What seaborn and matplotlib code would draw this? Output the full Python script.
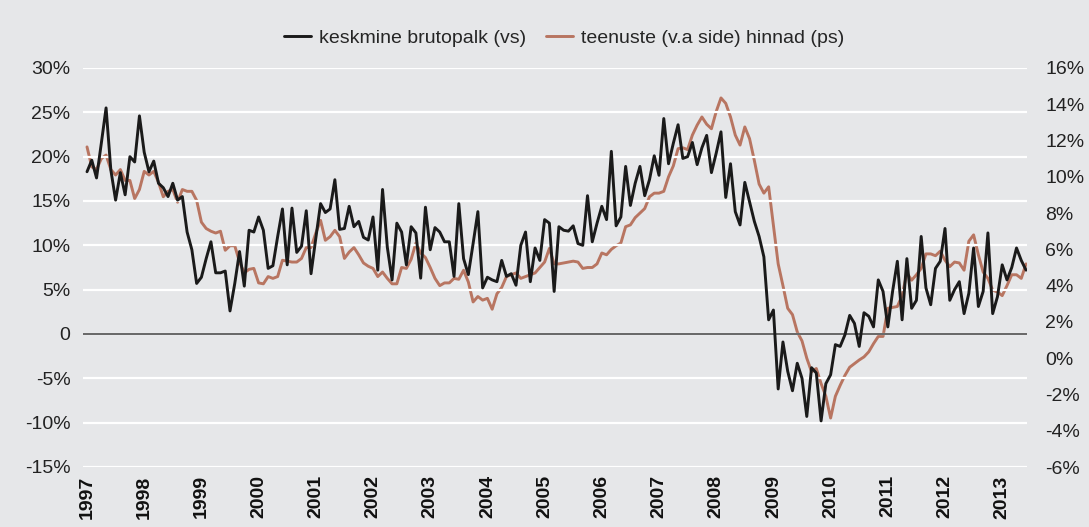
import numpy as np
import pandas as pd
import matplotlib
matplotlib.use("Agg")
import matplotlib.pyplot as plt
import seaborn as sns

# monthly data, Jan 1997 .. Jun 2013
brutopalk = [
    18.3, 19.6, 17.6, 21.5, 25.5, 18.5, 15.1, 18.2, 15.7, 20.0, 19.4, 24.6,
    20.5, 18.3, 19.5, 17.0, 16.5, 15.5, 17.0, 15.1, 15.5, 11.5, 9.5, 5.7,
    6.4, 8.5, 10.4, 6.9, 6.9, 7.1, 2.6, 5.7, 9.3, 5.4, 11.7, 11.5,
    13.2, 11.7, 7.4, 7.7, 11.0, 14.1, 7.8, 14.2, 9.2, 9.9, 13.9, 6.8,
    10.8, 14.7, 13.7, 14.1, 17.4, 11.8, 11.9, 14.4, 12.1, 12.7, 10.9, 10.6,
    13.2, 7.2, 16.3, 9.8, 6.1, 12.5, 11.5, 7.8, 12.1, 11.4, 6.3, 14.3,
    9.5, 12.0, 11.5, 10.4, 10.4, 6.5, 14.7, 8.5, 6.7, 10.2, 13.8, 5.2,
    6.4, 6.1, 5.9, 8.3, 6.5, 6.8, 5.5, 10.0, 11.5, 5.9, 9.7, 8.3,
    12.9, 12.5, 4.8, 12.1, 11.7, 11.6, 12.2, 10.2, 10.0, 15.6, 10.4, 12.5,
    14.4, 12.9, 20.6, 12.2, 13.2, 18.9, 14.5, 17.0, 18.9, 15.6, 17.4, 20.1,
    17.9, 24.3, 19.2, 21.5, 23.6, 19.8, 20.0, 21.6, 19.1, 21.0, 22.4, 18.2,
    20.4, 22.8, 15.4, 19.2, 13.8, 12.3, 17.1, 14.9, 12.7, 11.0, 8.7, 1.6,
    2.7, -6.2, -0.9, -4.2, -6.4, -3.3, -5.0, -9.3, -3.8, -4.4, -9.8, -5.6,
    -4.6, -1.2, -1.4, -0.1, 2.1, 1.2, -1.4, 2.4, 2.0, 0.8, 6.1, 4.8,
    0.8, 4.8, 8.2, 1.6, 8.5, 2.9, 3.8, 11.0, 5.2, 3.3, 7.4, 8.2,
    11.9, 3.8, 5.0, 5.9, 2.3, 4.6, 9.7, 3.1, 4.8, 11.4, 2.3, 4.2,
    7.8, 6.1, 7.5, 9.7, 8.3, 7.2,
]
teenuste_hinnad = [
    11.65, 10.55, 10.4, 11.0, 11.2, 10.4, 10.1, 10.4, 9.8, 9.8, 8.8, 9.3,
    10.3, 10.1, 10.3, 9.7, 8.9, 9.2, 9.3, 8.6, 9.3, 9.2, 9.2, 8.7,
    7.5, 7.15, 7.0, 6.9, 7.0, 5.95, 6.2, 6.2, 5.3, 4.7, 4.9, 4.95,
    4.15, 4.1, 4.5, 4.4, 4.5, 5.4, 5.35, 5.3, 5.3, 5.5, 6.1, 6.1,
    6.9, 7.6, 6.5, 6.7, 7.05, 6.7, 5.5, 5.85, 6.1, 5.7, 5.25, 5.07,
    4.95, 4.5, 4.75, 4.4, 4.1, 4.1, 5.0, 4.95, 5.45, 6.35, 5.8, 5.55,
    5.0, 4.4, 4.0, 4.15, 4.15, 4.4, 4.35, 4.85, 4.2, 3.1, 3.4, 3.2,
    3.3, 2.7, 3.55, 3.9, 4.5, 4.6, 4.7, 4.4, 4.5, 4.6, 4.7, 5.0,
    5.3, 6.05, 5.2, 5.2, 5.25, 5.3, 5.35, 5.3, 4.95, 5.0, 5.0, 5.2,
    5.8, 5.7, 6.0, 6.2, 6.35, 7.25, 7.35, 7.75, 8.0, 8.25, 8.9, 9.1,
    9.1, 9.2, 10.0, 10.6, 11.55, 11.6, 11.5, 12.3, 12.85, 13.3, 12.9, 12.65,
    13.6, 14.35, 14.05, 13.3, 12.3, 11.75, 12.75, 12.1, 10.9, 9.6, 9.1, 9.45,
    7.3, 5.2, 4.0, 2.75, 2.4, 1.45, 0.95, 0.0, -0.75, -0.57, -1.4, -2.1,
    -3.3, -2.1, -1.5, -0.95, -0.5, -0.3, -0.1, 0.07, 0.35, 0.8, 1.2, 1.2,
    2.75, 2.8, 2.85, 3.45, 4.7, 4.3, 4.6, 4.95, 5.75, 5.75, 5.65, 5.9,
    5.4, 5.05, 5.3, 5.25, 4.85, 6.45, 6.8, 5.7, 4.75, 4.4, 3.75, 3.65,
    3.45, 4.0, 4.6, 4.6, 4.4, 5.2,
]
years = list(range(1997, 2014))
left_ticks = list(range(-15, 31, 5))
right_ticks = list(range(-6, 17, 2))
label_left = "keskmine brutopalk (vs)"
label_right = "teenuste (v.a side) hinnad (ps)"

df = pd.DataFrame({
    "t": 1997 + np.arange(len(brutopalk)) / 12,
    "palk": brutopalk,
    "hinnad": teenuste_hinnad,
})

bg = "#e6e7e9"
brown = "#b87561"

sns.set_style("white")
plt.rcParams["font.family"] = ["Liberation Sans", "DejaVu Sans"]

fig = plt.figure(figsize=(10.89, 5.27), dpi=100, facecolor=bg)
ax = fig.add_axes([83 / 1089, 1 - 467 / 527, (1027 - 83) / 1089, (467 - 68) / 527])
ax.set_facecolor(bg)
ax2 = ax.twinx()

for y in left_ticks:
    ax.axhline(y, color="white", lw=1.6, zorder=0)
ax.axhline(0, color="#4d4d4d", lw=1.2, zorder=1)

sns.lineplot(data=df, x="t", y="hinnad", ax=ax2, color=brown, lw=2.1, label=label_right, legend=False)
sns.lineplot(data=df, x="t", y="palk", ax=ax, color="#1a1a1a", lw=2.1, label=label_left, legend=False)
ax.set_zorder(ax2.get_zorder() + 1)
ax.patch.set_visible(False)
fig.patch.set_facecolor(bg)

ax.set_xlim(1997 - 0.07, 1997 + 197.2 / 12)
ax.set_ylim(-15, 30)
ax2.set_ylim(-6, 16)
ax.set_yticks(left_ticks)
ax.set_yticklabels([("0" if v == 0 else f"{v}%") for v in left_ticks], fontsize=14, color="#222222")
ax2.set_yticks(right_ticks)
ax2.set_yticklabels([f"{v}%" for v in right_ticks], fontsize=14, color="#222222")
ax.set_xticks(years)
ax.set_xticklabels([str(y) for y in years], rotation=90, fontsize=14, fontweight="bold", color="#111111")
ax.tick_params(axis="y", length=0, pad=9)
ax.tick_params(axis="x", length=0, pad=6)
ax2.tick_params(axis="y", length=0, pad=13)
ax.set_xlabel("")
ax.set_ylabel("")
ax2.set_ylabel("")
for a in (ax, ax2):
    for s in a.spines.values():
        s.set_visible(False)

h1, l1 = ax.get_legend_handles_labels()
h2, l2 = ax2.get_legend_handles_labels()
fig.legend(h1 + h2, l1 + l2, loc="center", bbox_to_anchor=(564 / 1089, 1 - 38 / 527),
           ncol=2, frameon=False, fontsize=14, handlelength=1.4, columnspacing=1.0,
           handletextpad=0.4)

fig.savefig("out.png", dpi=100, facecolor=bg)
